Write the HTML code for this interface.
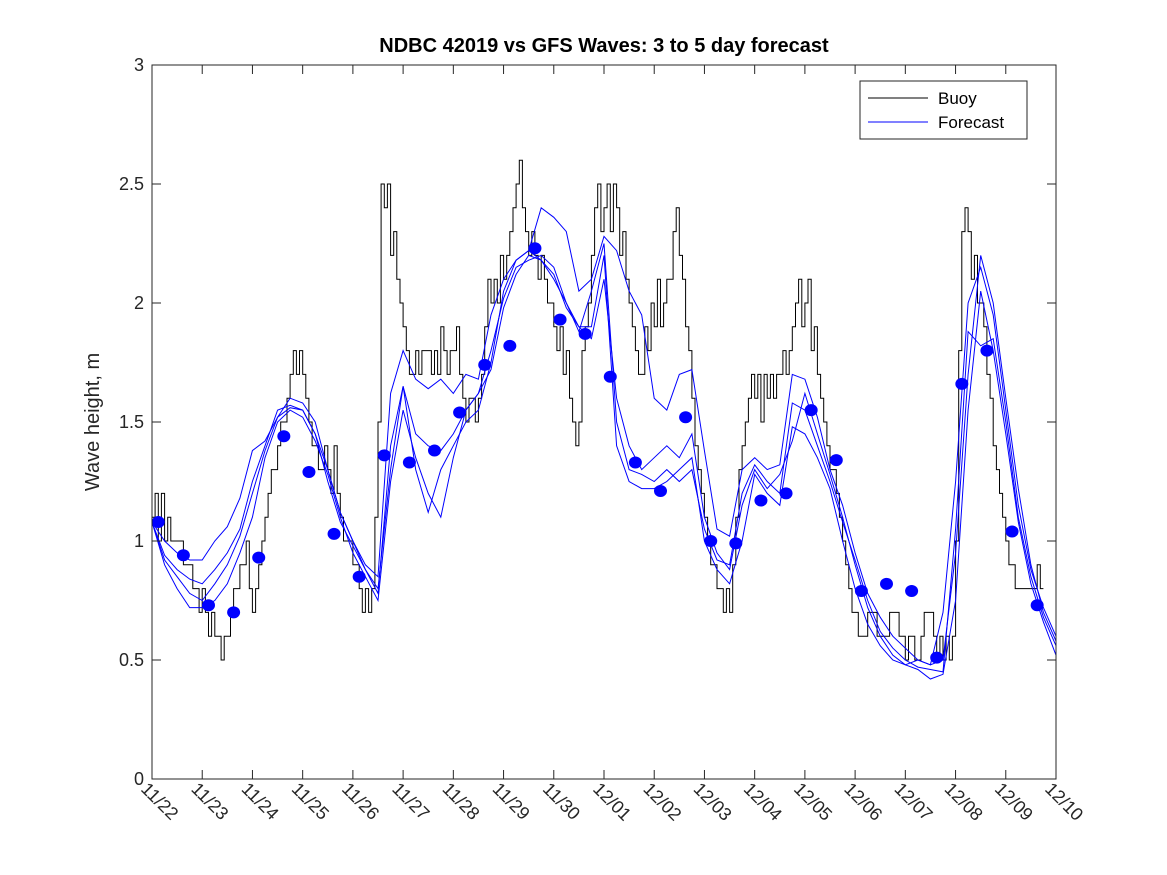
<!DOCTYPE html>
<html><head><meta charset="utf-8"><style>
html,body{margin:0;padding:0;background:#fff;}
svg{display:block;font-family:"Liberation Sans","DejaVu Sans",sans-serif;}
</style></head><body>
<svg id="chart" width="1167" height="875" viewBox="0 0 1167 875">
<rect x="0" y="0" width="1167" height="875" fill="#fff"/>
<text x="604" y="52" text-anchor="middle" font-size="20" font-weight="bold" fill="#000">NDBC 42019 vs GFS Waves: 3 to 5 day forecast</text>
<text transform="translate(99,422) rotate(-90)" text-anchor="middle" font-size="20" fill="#262626">Wave height, m</text>
<g id="plot"></g>
<g id="axes"></g>
<g>
<rect x="860" y="81" width="167" height="58" fill="#fff" stroke="#262626" stroke-width="1"/>
<line x1="868" y1="98" x2="928" y2="98" stroke="#000" stroke-width="1"/>
<text x="938" y="104" font-size="17" fill="#000">Buoy</text>
<line x1="868" y1="122" x2="928" y2="122" stroke="#00f" stroke-width="1"/>
<text x="938" y="128" font-size="17" fill="#000">Forecast</text>
</g>
</svg>
<script>
const xTickLabels = ["11/22","11/23","11/24","11/25","11/26","11/27","11/28","11/29","11/30","12/01","12/02","12/03","12/04","12/05","12/06","12/07","12/08","12/09","12/10"];
const yTickLabels = ["0","0.5","1","1.5","2","2.5","3"];
const yTickValues = [0,0.5,1,1.5,2,2.5,3];
// buoy, 1.5-hourly from 11/22 00Z
const buoyStep = 0.0625;
const buoy = [1.1,1.2,1.0,1.2,1.0,1.1,1.0,1.0,
1.0,1.0,0.9,0.9,0.9,0.8,0.8,0.7,
0.8,0.7,0.6,0.7,0.6,0.6,0.5,0.6,
0.6,0.7,0.8,0.8,0.9,0.9,1.0,0.8,
0.7,0.8,0.9,1.0,1.1,1.2,1.3,1.3,
1.4,1.5,1.5,1.6,1.7,1.8,1.7,1.8,
1.7,1.6,1.5,1.4,1.4,1.3,1.3,1.4,
1.3,1.2,1.4,1.2,1.1,1.0,1.0,1.0,
0.9,0.9,0.8,0.7,0.8,0.7,0.8,1.1,
1.5,2.5,2.4,2.5,2.2,2.3,2.1,2.0,
1.9,1.8,1.7,1.7,1.8,1.7,1.8,1.8,
1.8,1.7,1.8,1.7,1.9,1.8,1.7,1.8,
1.8,1.9,1.7,1.6,1.5,1.6,1.6,1.5,
1.6,1.7,1.9,2.1,2.0,2.1,2.0,2.2,
2.1,2.2,2.3,2.4,2.5,2.6,2.4,2.3,
2.2,2.3,2.2,2.1,2.2,2.1,2.0,2.0,
1.9,1.8,1.9,1.7,1.8,1.6,1.5,1.4,
1.5,1.8,1.9,2.0,2.2,2.4,2.5,2.3,
2.4,2.5,2.3,2.5,2.4,2.2,2.3,2.1,
2.0,1.9,1.8,1.7,1.7,1.9,1.8,2.0,
1.9,2.1,1.9,2.0,2.1,2.1,2.3,2.4,
2.2,2.1,1.9,1.8,1.6,1.4,1.3,1.2,
1.1,1.0,0.9,0.9,0.8,0.8,0.7,0.8,
0.7,0.9,1.1,1.3,1.4,1.5,1.6,1.7,
1.6,1.7,1.5,1.7,1.6,1.7,1.6,1.7,
1.7,1.8,1.7,1.8,1.9,2.0,2.1,1.9,
2.0,2.1,1.8,1.9,1.7,1.6,1.5,1.4,
1.3,1.3,1.2,1.1,1.0,0.9,0.8,0.7,
0.7,0.6,0.6,0.6,0.7,0.7,0.7,0.6,
0.6,0.6,0.6,0.7,0.7,0.7,0.6,0.6,
0.5,0.6,0.6,0.5,0.5,0.6,0.7,0.7,
0.7,0.6,0.5,0.6,0.5,0.6,0.5,0.6,
1.0,1.8,2.3,2.4,2.3,2.1,2.2,2.0,
2.0,1.9,1.7,1.6,1.4,1.3,1.2,1.1,
1.0,0.9,0.9,0.8,0.8,0.8,0.8,0.8,
0.8,0.8,0.9,0.8];
// forecast lines, 6-hourly from 11/22 00Z
const fcStep = 0.25;
const forecast1 = [1.08,1.0,0.95,0.92,0.92,1.0,1.06,1.18,1.38,1.42,1.52,1.60,1.58,1.50,1.30,1.12,1.0,0.9,0.85,1.62,1.80,1.68,1.64,1.68,1.62,1.70,1.68,1.95,2.10,2.18,2.22,2.40,2.36,2.30,2.05,2.10,2.28,2.22,2.05,1.95,1.60,1.55,1.70,1.72,1.38,1.05,1.02,1.30,1.35,1.30,1.32,1.70,1.68,1.52,1.30,1.15,0.95,0.78,0.68,0.60,0.55,0.50,0.48,0.70,1.25,2.0,2.15,1.95,1.55,1.15,0.88,0.72,0.60];
const forecast2 = [1.08,0.94,0.88,0.84,0.82,0.88,0.95,1.05,1.25,1.40,1.55,1.57,1.55,1.45,1.25,1.08,0.98,0.88,0.78,1.40,1.65,1.45,1.40,1.38,1.45,1.55,1.62,1.80,2.02,2.15,2.18,2.20,2.15,2.00,1.88,2.05,2.25,1.50,1.30,1.28,1.25,1.30,1.25,1.30,1.05,0.92,0.90,1.20,1.32,1.25,1.20,1.58,1.55,1.40,1.25,1.08,0.92,0.75,0.62,0.55,0.50,0.47,0.46,0.45,1.05,1.88,1.82,1.85,1.50,1.10,0.85,0.68,0.56];
const forecast3 = [1.08,0.90,0.80,0.72,0.72,0.75,0.82,0.95,1.10,1.35,1.50,1.55,1.52,1.42,1.28,1.10,0.95,0.85,0.75,1.25,1.55,1.35,1.20,1.10,1.35,1.55,1.62,1.72,1.98,2.12,2.20,2.18,2.10,2.00,1.90,1.90,2.20,1.40,1.25,1.22,1.22,1.25,1.30,1.35,1.00,0.88,0.82,1.00,1.28,1.20,1.15,1.48,1.45,1.35,1.22,1.00,0.80,0.65,0.56,0.50,0.48,0.46,0.42,0.44,0.75,1.55,2.05,1.80,1.45,1.08,0.82,0.66,0.52];
const forecast4 = [1.08,0.92,0.85,0.78,0.75,0.82,0.90,1.02,1.20,1.38,1.52,1.56,1.55,1.45,1.30,1.12,1.0,0.88,0.80,1.30,1.65,1.30,1.12,1.30,1.40,1.50,1.55,1.75,2.05,2.18,2.22,2.18,2.12,1.98,1.90,1.85,2.10,1.60,1.40,1.30,1.35,1.40,1.35,1.45,1.10,0.95,0.88,1.15,1.30,1.22,1.28,1.42,1.62,1.45,1.28,1.10,0.90,0.72,0.60,0.52,0.48,0.50,0.48,0.50,0.95,1.70,2.20,2.00,1.60,1.22,0.90,0.70,0.58];
// forecast start points, every 12h from 11/22 03Z
const dotStart = 0.125, dotStep = 0.5;
const dots = [1.08,0.94,0.73,0.70,0.93,1.44,1.29,1.03,0.85,1.36,1.33,1.38,1.54,1.74,1.82,2.23,1.93,1.87,1.69,1.33,1.21,1.52,1.00,0.99,1.17,1.20,1.55,1.34,0.79,0.82,0.79,0.51,1.66,1.80,1.04,0.73];

const L=152,R=1056,T=65,B=779, X0=0,X1=18, Y0=0,Y1=3;
const xs=d=>L+(d-X0)/(X1-X0)*(R-L);
const ys=v=>B-(v-Y0)/(Y1-Y0)*(B-T);
const NS="http://www.w3.org/2000/svg";
const plot=document.getElementById('plot'), axes=document.getElementById('axes');
function mk(tag,attrs,parent){const e=document.createElementNS(NS,tag);for(const k in attrs)e.setAttribute(k,attrs[k]);parent.appendChild(e);return e;}

let p="";
buoy.forEach((v,i)=>{const x0=xs(i*buoyStep),x1=xs((i+1)*buoyStep);p+=(i?"L":"M")+x0.toFixed(1)+","+ys(v).toFixed(1)+"L"+x1.toFixed(1)+","+ys(v).toFixed(1);});
const bl=mk('path',{d:p,fill:'none',stroke:'#000','stroke-width':1},plot);



[forecast1,forecast2,forecast3,forecast4].forEach((arr,k)=>{
  const d=arr.map((v,i)=>(i?"L":"M")+xs(i*fcStep).toFixed(1)+","+ys(v).toFixed(1)).join("");
  const fl=mk('path',{d:d,fill:'none',stroke:'#00f','stroke-width':1},plot);
  
  
});
dots.forEach((v,i)=>{
  const c=mk('ellipse',{cx:xs(dotStart+i*dotStep),cy:ys(v),rx:6.5,ry:6,fill:'#00f'},plot);
  
  
});

mk('rect',{x:L,y:T,width:R-L,height:B-T,fill:'none',stroke:'#262626','stroke-width':1},axes);
yTickValues.forEach((v,i)=>{
  const y=ys(v);
  mk('line',{x1:L,y1:y,x2:L+9,y2:y,stroke:'#262626'},axes);
  mk('line',{x1:R,y1:y,x2:R-9,y2:y,stroke:'#262626'},axes);
  const t=mk('text',{x:L-8,y:y+6,'text-anchor':'end','font-size':18,fill:'#262626'},axes);
  t.textContent=yTickLabels[i];
  
  
});
xTickLabels.forEach((lab,i)=>{
  const x=xs(i);
  mk('line',{x1:x,y1:B,x2:x,y2:B-9,stroke:'#262626'},axes);
  mk('line',{x1:x,y1:T,x2:x,y2:T+9,stroke:'#262626'},axes);
  const t=mk('text',{transform:`translate(${x-12},${B+11}) rotate(45)`,'font-size':18,fill:'#262626'},axes);
  t.textContent=lab;
  
  
});
</script>
</body></html>
